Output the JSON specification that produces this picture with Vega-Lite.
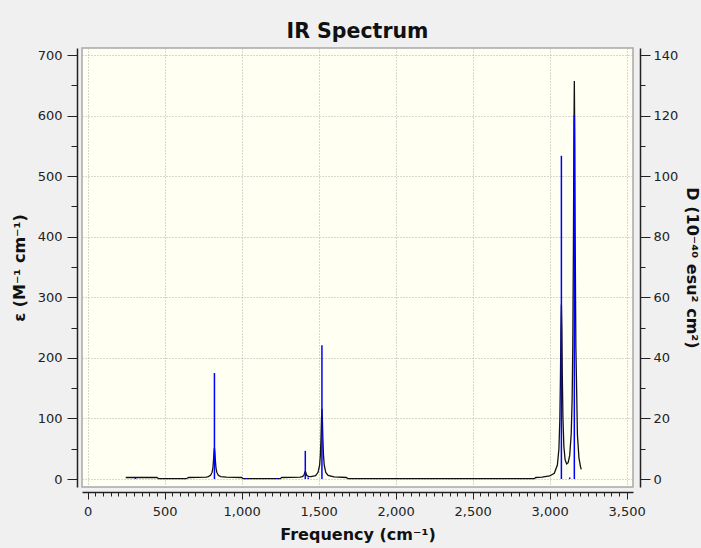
{
  "$schema": "https://vega.github.io/schema/vega-lite/v6.json",
  "width": 551,
  "height": 439,
  "autosize": {"type": "none"},
  "padding": {"left": 82, "top": 48, "right": 68, "bottom": 61},
  "background": "#F0F0F0",
  "title": {"text": "IR Spectrum", "fontSize": 20.5, "font": "DejaVu Sans", "fontWeight": "bold", "color": "#111111", "offset": 6},
  "config": {
    "view": {"fill": "#FFFFF2", "stroke": "#A8A8A8", "strokeWidth": 1.5},
    "axis": {
      "labelFont": "DejaVu Sans", "labelFontSize": 13, "labelColor": "#222222",
      "titleFont": "DejaVu Sans", "titleFontSize": 16, "titleFontWeight": "bold", "titleColor": "#111111",
      "domainColor": "#222222", "domainWidth": 1.5, "tickColor": "#222222", "tickWidth": 1,
      "gridColor": "#B0B0B0", "gridDash": [1, 2], "gridWidth": 1,
      "labelOverlap": false, "labelBound": false, "labelFlush": false
    }
  },
  "resolve": {"scale": {"y": "independent"}, "axis": {"x": "independent"}},
  "layer": [
    {
      "data": {"values": [
        {"freq": 247, "eps": 2.5}, {"freq": 300, "eps": 2.5}, {"freq": 450, "eps": 2.5}, {"freq": 460, "eps": 0.5},
        {"freq": 640, "eps": 0.5}, {"freq": 655, "eps": 2.5}, {"freq": 770, "eps": 3}, {"freq": 783, "eps": 4},
        {"freq": 798, "eps": 6.1}, {"freq": 808, "eps": 11.3}, {"freq": 813, "eps": 18.6}, {"freq": 817, "eps": 30.7},
        {"freq": 820, "eps": 43.9}, {"freq": 823, "eps": 51.5}, {"freq": 826, "eps": 43.9}, {"freq": 829, "eps": 30.7},
        {"freq": 833, "eps": 18.6}, {"freq": 838, "eps": 11.3}, {"freq": 848, "eps": 6.1}, {"freq": 863, "eps": 4},
        {"freq": 900, "eps": 3}, {"freq": 1000, "eps": 2.5}, {"freq": 1010, "eps": 0.5}, {"freq": 1250, "eps": 0.5},
        {"freq": 1260, "eps": 2.5}, {"freq": 1380, "eps": 3}, {"freq": 1393, "eps": 4}, {"freq": 1403, "eps": 5.6},
        {"freq": 1407, "eps": 8.5}, {"freq": 1410, "eps": 11}, {"freq": 1413, "eps": 12.5}, {"freq": 1416, "eps": 11},
        {"freq": 1419, "eps": 8.6}, {"freq": 1423, "eps": 5.8}, {"freq": 1433, "eps": 4.3}, {"freq": 1450, "eps": 4},
        {"freq": 1480, "eps": 5.7}, {"freq": 1496, "eps": 11}, {"freq": 1506, "eps": 22.7}, {"freq": 1511, "eps": 39.7},
        {"freq": 1515, "eps": 67.5}, {"freq": 1518, "eps": 98}, {"freq": 1521, "eps": 116}, {"freq": 1524, "eps": 98},
        {"freq": 1527, "eps": 67.5}, {"freq": 1531, "eps": 39.7}, {"freq": 1536, "eps": 22.7}, {"freq": 1546, "eps": 10.7},
        {"freq": 1561, "eps": 5.9}, {"freq": 1600, "eps": 3.5}, {"freq": 1680, "eps": 2.5}, {"freq": 1690, "eps": 0.5},
        {"freq": 2900, "eps": 0.5}, {"freq": 2910, "eps": 2.5}, {"freq": 2950, "eps": 3}, {"freq": 3000, "eps": 5},
        {"freq": 3030, "eps": 9.5}, {"freq": 3050, "eps": 23}, {"freq": 3060, "eps": 50}, {"freq": 3066, "eps": 99},
        {"freq": 3070, "eps": 170}, {"freq": 3073, "eps": 248}, {"freq": 3076, "eps": 288}, {"freq": 3079, "eps": 248},
        {"freq": 3082, "eps": 171}, {"freq": 3086, "eps": 101}, {"freq": 3092, "eps": 54}, {"freq": 3100, "eps": 32},
        {"freq": 3110, "eps": 25}, {"freq": 3120, "eps": 27}, {"freq": 3130, "eps": 39}, {"freq": 3140, "eps": 75},
        {"freq": 3146, "eps": 134}, {"freq": 3150, "eps": 219}, {"freq": 3154, "eps": 381}, {"freq": 3157, "eps": 557},
        {"freq": 3160, "eps": 657}, {"freq": 3163, "eps": 557}, {"freq": 3166, "eps": 380}, {"freq": 3170, "eps": 218},
        {"freq": 3176, "eps": 133}, {"freq": 3180, "eps": 73}, {"freq": 3190, "eps": 35}, {"freq": 3200, "eps": 20.5},
        {"freq": 3205, "eps": 16}
      ]},
      "mark": {"type": "line", "color": "#111111", "strokeWidth": 1.3},
      "encoding": {
        "x": {
          "field": "freq", "type": "quantitative",
          "scale": {"domain": [-37, 3541], "nice": false, "zero": false},
          "axis": {
            "title": "Frequency (cm⁻¹)",
            "orient": "bottom",
            "values": [0,50,100,150,200,250,300,350,400,450,500,550,600,650,700,750,800,850,900,950,1000,1050,1100,1150,1200,1250,1300,1350,1400,1450,1500,1550,1600,1650,1700,1750,1800,1850,1900,1950,2000,2050,2100,2150,2200,2250,2300,2350,2400,2450,2500,2550,2600,2650,2700,2750,2800,2850,2900,2950,3000,3050,3100,3150,3200,3250,3300,3350,3400,3450,3500],
            "labelExpr": "datum.value % 500 === 0 ? format(datum.value, ',') : ''",
            "tickSize": {"condition": {"test": "datum.value % 500 === 0", "value": 7}, "value": 4},
            "gridOpacity": {"condition": {"test": "datum.value % 500 === 0", "value": 1}, "value": 0},
            "grid": true,
            "offset": 5,
            "labelPadding": 6,
            "titlePadding": 8
          }
        },
        "y": {
          "field": "eps", "type": "quantitative",
          "scale": {"domain": [-13.2, 711.6], "nice": false, "zero": false},
          "axis": {
            "title": "ε (M⁻¹ cm⁻¹)",
            "orient": "left",
            "values": [0,50,100,150,200,250,300,350,400,450,500,550,600,650,700],
            "labelExpr": "datum.value % 100 === 0 ? datum.label : ''",
            "tickSize": {"condition": {"test": "datum.value % 100 === 0", "value": 10}, "value": 6},
            "gridOpacity": {"condition": {"test": "datum.value % 100 === 0", "value": 1}, "value": 0},
            "grid": true,
            "offset": 5,
            "labelPadding": 5,
            "titlePadding": 10
          }
        }
      }
    },
    {
      "data": {"values": [
        {"freq": 310, "D": 0.4}, {"freq": 823, "D": 35}, {"freq": 1030, "D": 0.3}, {"freq": 1227, "D": 0.3},
        {"freq": 1413, "D": 9.3}, {"freq": 1432, "D": 0.5}, {"freq": 1521, "D": 44.2}, {"freq": 3076, "D": 106.7},
        {"freq": 3130, "D": 0.5}, {"freq": 3160, "D": 120.2}
      ]},
      "mark": {"type": "rule", "color": "#0000FF", "strokeWidth": 1.5},
      "encoding": {
        "x": {
          "field": "freq", "type": "quantitative",
          "scale": {"domain": [-37, 3541], "nice": false, "zero": false},
          "axis": null
        },
        "y": {
          "field": "D", "type": "quantitative",
          "scale": {"domain": [-2.64, 142.32], "nice": false, "zero": false},
          "axis": {
            "title": "D (10⁻⁴⁰ esu² cm²)",
            "orient": "right",
            "values": [0,10,20,30,40,50,60,70,80,90,100,110,120,130,140],
            "labelExpr": "datum.value % 20 === 0 ? datum.label : ''",
            "tickSize": {"condition": {"test": "datum.value % 20 === 0", "value": 10}, "value": 5},
            "grid": false,
            "offset": 7,
            "labelPadding": 3,
            "titlePadding": 6
          }
        },
        "y2": {"datum": 0}
      }
    }
  ]
}
